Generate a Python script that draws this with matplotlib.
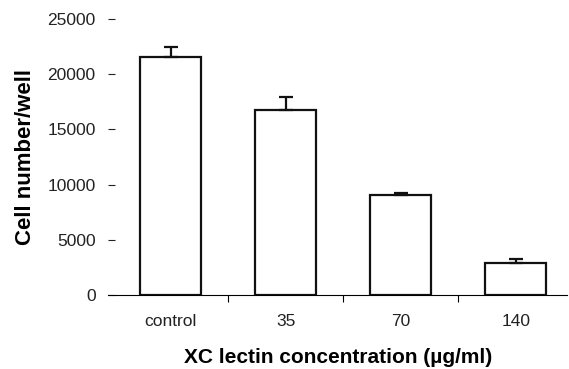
import numpy as np
import matplotlib.pyplot as plt

plt.rcParams['font.family'] = ['Liberation Sans', 'DejaVu Sans']

# Data
labels = ['control', '35', '70', '140']
cells = [21600, 16750, 9050, 2900]
err = [900, 1200, 150, 350]

fig = plt.figure(figsize=(5.69, 3.69), dpi=100)
ax = fig.add_axes([0.19, 0.2005, 0.807, 0.748])

x = np.arange(len(labels))
ax.bar(x, cells, width=0.53, color='white', edgecolor='#111111', linewidth=1.6)
ax.errorbar(x, cells, yerr=[np.zeros(len(err)), err], fmt='none',
            ecolor='#111111', elinewidth=1.6, capsize=5, capthick=1.6)

ax.set_xlim(-0.543, 3.448)
ax.set_ylim(0, 25000)
ax.set_yticks([0, 5000, 10000, 15000, 20000, 25000])
ax.tick_params(axis='y', direction='in', length=5, width=0.8, pad=9, labelsize=12.5,
               colors='#222222')

# category labels without ticks, ticks between categories
ax.set_xticks(x)
ax.set_xticklabels(labels)
ax.set_xticks(x[:-1] + 0.5, minor=True)
ax.tick_params(axis='x', which='major', length=0, pad=14, labelsize=12.5, colors='#222222')
ax.tick_params(axis='x', which='minor', direction='out', length=5, width=0.8)

for s in ['top', 'right', 'left']:
    ax.spines[s].set_visible(False)
ax.spines['bottom'].set_linewidth(0.8)

ax.set_ylabel('Cell number/well', fontsize=16, fontweight='bold', labelpad=8)
ax.set_xlabel('XC lectin concentration (µg/ml)', fontsize=15, fontweight='bold', labelpad=13)

fig.savefig('out.png', dpi=100)
